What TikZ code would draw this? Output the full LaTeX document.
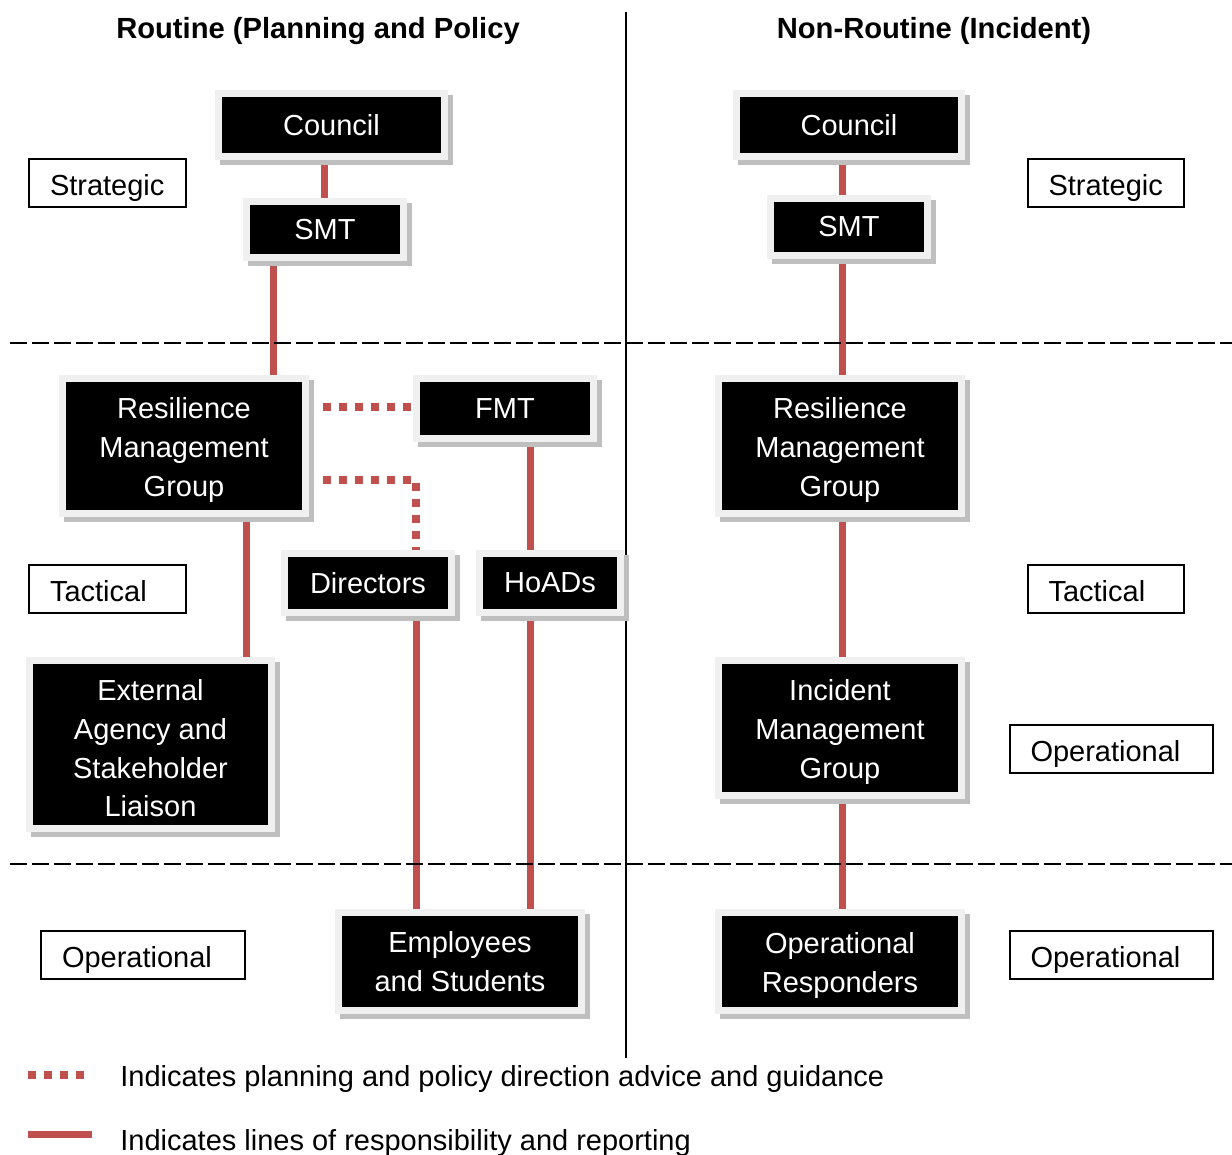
\documentclass[tikz,border=0pt]{standalone}
\usepackage{fontspec}
\setmainfont{Liberation Sans}
\usetikzlibrary{backgrounds}

\definecolor{linkred}{RGB}{192,80,77}
\newcommand\unitfont{\fontsize{16.5}{22}\selectfont}
\newcommand\headfont{\fontsize{16.6}{19}\selectfont\bfseries}
\newcommand\lift{\rule{0pt}{0.58cm}}

\tikzset{
  unit/.style={fill=black, draw=black!6, line width=0.15cm, text=white, align=center,
    font=\unitfont, inner sep=0pt,
    preaction={fill=black!25, draw=black!25, line width=0.15cm,
      transform canvas={shift={(0.1cm,-0.1cm)}}}},
  level/.style={draw=black, fill=white, line width=0.04cm, minimum height=0.96cm,
    text height=0.5cm, text depth=0pt, inner xsep=0.42cm, inner ysep=0pt,
    text width=#1, align=left, font=\unitfont},
  head/.style={font=\headfont},
  report/.style={linkred, line width=0.14cm},
  advice/.style={linkred, line width=0.16cm, dash pattern=on 0.16cm off 0.16cm},
  divide/.style={black, line width=0.04cm, dash pattern=on 0.34cm off 0.1cm}
}

\begin{document}
\begin{tikzpicture}[x=0.02cm,y=-0.02cm]
    \useasboundingbox (0,0) rectangle (1232,1155);
    % headings and dividers
    \node[head] (hl) at (318,31) {Routine (Planning and Policy};
    \node[head] (hr) at (934,31) {Non-Routine (Incident)};
    \draw[line width=0.04cm] (626,12) -- (626,1058);
    \draw[divide] (10,343) -- (1232,343);
    \draw[divide] (10,864) -- (1232,864);

    % levels
    \node[level=2.3cm] (sl) at (107.5,183) {Strategic};
    \node[level=2.3cm] (sr) at (1106,183) {Strategic};
    \node[level=2.3cm] (tl) at (107.5,589) {Tactical};
    \node[level=2.3cm] (tr) at (1106,589) {Tactical};
    \node[level=3.24cm] (ol) at (143,955) {Operational};
    \node[level=3.24cm] (or) at (1111.5,749) {Operational};
    \node[level=3.24cm] (orb) at (1111.5,955) {Operational};

    % routine
    \node[unit,minimum width=4.53cm,minimum height=1.27cm] (lcouncil) at (331.5,125) {Council};
    \node[unit,minimum width=3.15cm,minimum height=1.13cm] (lsmt) at (325,229.5) {SMT};
    \node[unit,minimum width=4.87cm,minimum height=2.71cm] (lrmg) at (184,446) {\lift Resilience\\Management\\Group};
    \node[unit,minimum width=3.55cm,minimum height=1.21cm] (fmt) at (505,408.5) {FMT};
    \node[unit,minimum width=3.35cm,minimum height=1.19cm] (dir) at (368,583) {Directors};
    \node[unit,minimum width=2.83cm,minimum height=1.19cm] (hoads) at (550,583) {HoADs};
    \node[unit,minimum width=4.85cm,minimum height=3.37cm] (ext) at (150.5,744.5) {\lift External\\Agency and\\Stakeholder\\Liaison};
    \node[unit,minimum width=4.87cm,minimum height=1.97cm] (emp) at (460,961.5) {Employees\\and Students};

    % non-routine
    \node[unit,minimum width=4.51cm,minimum height=1.27cm] (rcouncil) at (849,125) {Council};
    \node[unit,minimum width=3.15cm,minimum height=1.15cm] (rsmt) at (849,227) {SMT};
    \node[unit,minimum width=4.87cm,minimum height=2.71cm] (rrmg) at (840,446) {\lift Resilience\\Management\\Group};
    \node[unit,minimum width=4.87cm,minimum height=2.71cm] (img) at (840,728) {\lift Incident\\Management\\Group};
    \node[unit,minimum width=4.87cm,minimum height=1.97cm] (opr) at (840,961.5) {\lift Operational\\Responders};

    \begin{scope}[on background layer]
	\draw[report] (lcouncil.south -| 324,0) -- (lsmt.north -| 324,0);
	\draw[report] (lsmt.south -| 273,0) -- (lrmg.north -| 273,0);
	\draw[report] (lrmg.south -| 246,0) -- (ext.north -| 246,0);
	\draw[report] (fmt.south -| 530,0) -- (hoads.north -| 530,0);
	\draw[report] (dir.south -| 416,0) -- (emp.north -| 416,0);
	\draw[report] (hoads.south -| 530,0) -- (emp.north -| 530,0);
	\draw[advice,shorten <=0.28cm] (lrmg.east |- 0,407) -- (fmt.west |- 0,407);
	\draw[advice,shorten <=0.28cm] (lrmg.east |- 0,480) -| (dir.north -| 416,0);
	%\draw[report] (rcouncil) -- (opr);
	\draw[report] (rcouncil.south -| 842,0) -- (rsmt.north -| 842,0);
	\draw[report] (rsmt.south -| 842,0) -- (rrmg.north -| 842,0);
	\draw[report] (rrmg.south -| 842,0) -- (img.north -| 842,0);
	\draw[report] (img.south -| 842,0) -- (opr.north -| 842,0);
    \end{scope}

    % key
    \draw[advice] (28,1075) -- (84,1075);
    \node[anchor=base west,inner sep=0pt,font=\unitfont] (key1) at (120,1086) {Indicates planning and policy direction advice and guidance};
    \draw[report] (28,1134) -- (92,1134);
    \node[anchor=base west,inner sep=0pt,font=\unitfont] (key2) at (120,1150) {Indicates lines of responsibility and reporting};
\end{tikzpicture}
\end{document}
